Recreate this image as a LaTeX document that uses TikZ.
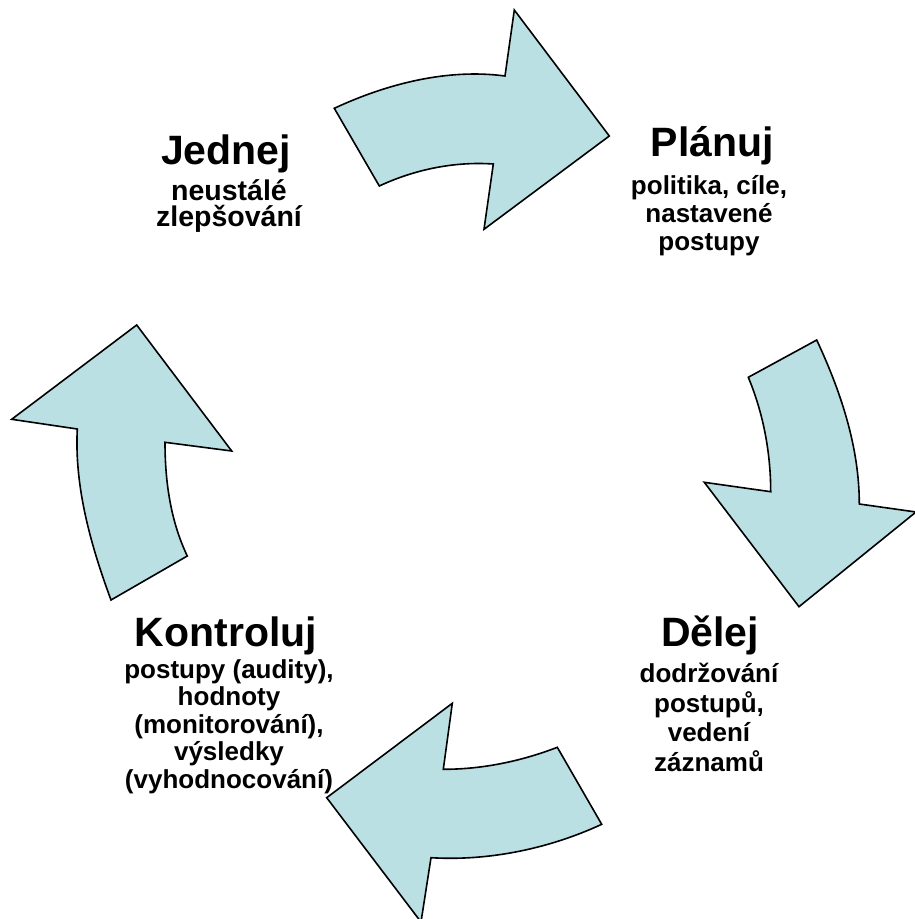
\documentclass[tikz,border=0pt]{standalone}
\usepackage{fontspec}
\setmainfont{Liberation Sans}
\definecolor{arrowfill}{RGB}{186,224,228}
\begin{document}
\begin{tikzpicture}[x=1pt,y=-1pt,
  bigarrow/.style={draw=black,line width=1.6pt,fill=arrowfill,line join=miter},
  ttl/.style={anchor=base,inner sep=0pt,font=\fontsize{41}{41}\selectfont\bfseries},
  sub/.style={anchor=base,inner sep=0pt,font=\fontsize{26}{28}\selectfont\bfseries},
  subbig/.style={anchor=base,inner sep=0pt,font=\fontsize{28.5}{28}\selectfont\bfseries}]
\useasboundingbox (0,0) rectangle (914,919);
% top arrow
\draw[bigarrow] (334.3,108.3) .. controls (386.9,83.8) and (447.5,68.3) .. (505,76)
  -- (514.3,10) -- (609.3,136) -- (484,229.3) -- (493.3,164)
  .. controls (454.4,161.3) and (414.6,169.5) .. (379.3,186) -- cycle;
% right arrow
\draw[bigarrow] (748.3,377.3) -- (816.7,340)
  .. controls (840.8,391.6) and (859.3,447) .. (859.3,504)
  -- (916,512) -- (799,606.7) -- (704.3,482.3) -- (770.7,491.7)
  .. controls (770.7,452.7) and (763.3,413.3) .. (748.3,377.3) -- cycle;
% bottom arrow
\draw[bigarrow] (557.3,747.3) -- (601.7,824.3)
  .. controls (549,848.7) and (488.8,861.2) .. (431,857.7)
  -- (421,922) -- (326.7,797.7) -- (452.3,703.3) -- (443.3,769.3)
  .. controls (482.3,769.3) and (520.9,761.3) .. (557.3,747.3) -- cycle;
% left arrow
\draw[bigarrow] (136.7,325) -- (11.7,419.3) -- (77.3,429)
  .. controls (74.3,487) and (90.9,545.6) .. (111,600)
  -- (187.3,556) .. controls (170.5,520.9) and (165,481.3) .. (165,442.3)
  -- (231.7,451) -- cycle;
% Jednej
\node[ttl] (jt) at (226,164.3) {Jednej};
\node[subbig] (j1) at (229,200) {neustálé};
\node[subbig] (j2) at (229,226) {zlepšování};
% Planuj
\node[ttl] (pt) at (712.5,156) {Plánuj};
\node[sub] (p1) at (709,194) {politika, cíle,};
\node[sub] (p2) at (709,222) {nastavené};
\node[sub] (p3) at (709,250) {postupy};
% Delej
\node[ttl] (dt) at (710,646.7) {Dělej};
\node[sub] (d1) at (709,682.7) {dodržování};
\node[sub] (d2) at (709,712) {postupů,};
\node[sub] (d3) at (709,741.5) {vedení};
\node[sub] (d4) at (709,771) {záznamů};
% Kontroluj
\node[ttl] (kt) at (226,646.7) {Kontroluj};
\node[sub] (k1) at (229,678.3) {postupy (audity),};
\node[sub] (k2) at (229,705.8) {hodnoty};
\node[sub] (k3) at (229,733.3) {(monitorování),};
\node[sub] (k4) at (229,760.8) {výsledky};
\node[sub] (k5) at (229,788.3) {(vyhodnocování)};
\end{tikzpicture}
\end{document}
